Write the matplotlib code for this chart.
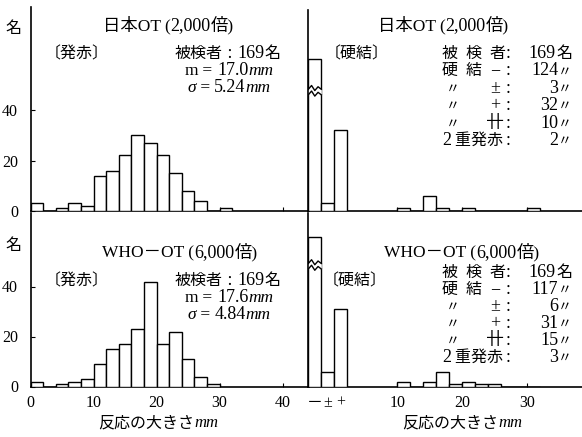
import matplotlib
matplotlib.use("Agg")
from matplotlib import pyplot as plt

plt.rcParams['font.family'] = ['Liberation Serif', 'Noto Sans CJK JP']

# 発赤 (redness) histograms, 2 mm bins starting at 0
red_edges_jp = [0, 2, 4, 6, 8, 10, 12, 14, 16, 18, 20, 22, 24, 26, 28, 30]
red_counts_jp = [3, 0, 1, 3, 2, 14, 16, 22, 30, 27, 22, 15, 8, 4, 0, 1]
red_edges_who = [0, 2, 4, 6, 8, 10, 12, 14, 16, 18, 20, 22, 24, 26, 28]
red_counts_who = [2, 0, 1, 2, 3, 9, 15, 17, 23, 42, 17, 22, 11, 4, 1]

# 硬結 (induration): categories -, ±, + then ++ sizes in 2 mm bins from 10
ind_cats = ['－', '±', '+']
ind_counts_jp = [124, 3, 32]
ind_counts_who = [117, 6, 31]
ind_edges = [10, 12, 14, 16, 18, 20, 22, 24, 26, 28, 30]
ind_mm_jp = [1, 0, 6, 1, 0, 1, 0, 0, 0, 0, 1]
ind_mm_who = [2, 0, 2, 6, 1, 2, 1, 1, 0, 0, 0]

CAP = 60  # the "-" bar is drawn broken at this height
cat_left = [-3.7, -1.7, 0.3]

W, H = 582, 437
fig = plt.figure(figsize=(W / 100, H / 100), dpi=100)
renderer = fig.canvas.get_renderer()

CJ = 11.5   # kanji size
NUM = 13    # digit size


def box(x0, y0, x1, y1):
    return [x0 / W, 1 - y1 / H, (x1 - x0) / W, (y1 - y0) / H]


def run(x, y, pieces, ha='left'):
    # pieces of (text, size[, style]) set side by side on one baseline (y in px from top)
    made = []
    for p in pieces:
        s, size = p[0], p[1]
        st = p[2] if len(p) > 2 else 'normal'
        t = fig.text(0, 0, s, fontsize=size, style=st, va='baseline', ha='left')
        made.append((t, t.get_window_extent(renderer).width))
    total = sum(w for _, w in made)
    if ha == 'center':
        x -= total / 2
    elif ha == 'right':
        x -= total
    for t, w in made:
        t.set_position((x / W, 1 - y / H))
        x += w


def style(ax):
    for s in ['top', 'right']:
        ax.spines[s].set_visible(False)
    for s in ['left', 'bottom']:
        ax.spines[s].set_linewidth(1.2)
    ax.tick_params(direction='in', length=3, width=0.8, labelsize=11.5)


def hist(ax, edges, counts):
    ax.bar(edges, counts, width=2, align='edge', color='white',
           edgecolor='black', linewidth=1.0, zorder=3)


ax_tl = fig.add_axes(box(30.7, 7, 309, 211))
ax_bl = fig.add_axes(box(30.7, 213, 309, 386.5))
ax_tr = fig.add_axes(box(308.3, 10, 582, 211))
ax_br = fig.add_axes(box(308.3, 213, 582, 386.5))

for ax in [ax_tl, ax_bl, ax_tr, ax_br]:
    style(ax)

ax_tl.set_ylim(0, 80.8)
ax_bl.set_ylim(0, 69.4)
ax_tr.set_ylim(0, 79.6)
ax_br.set_ylim(0, 69.4)

for ax in [ax_tl, ax_bl]:
    ax.set_xlim(0, 44.2)
    ax.set_yticks([0, 20, 40])
    ax.tick_params(axis='y', pad=9)
    ax.tick_params(axis='x', pad=6)
ax_tl.set_xticks([10, 20, 30, 40])
ax_bl.set_xticks([0, 10, 20, 30, 40])

hist(ax_tl, red_edges_jp, red_counts_jp)
hist(ax_bl, red_edges_who, red_counts_who)

for ax, cats, mm in [(ax_tr, ind_counts_jp, ind_mm_jp), (ax_br, ind_counts_who, ind_mm_who)]:
    ax.set_xlim(-3.7, 38.4)
    ax.set_yticks([20, 40])
    ax.set_yticklabels([])
    shown = [min(c, CAP) for c in cats]
    ax.bar(cat_left, shown, width=2, align='edge', color='white',
           edgecolor='black', linewidth=1.0, zorder=3)
    hist(ax, ind_edges, mm)
    ax.set_xticks([cl + 1 for cl in cat_left] + [10, 20, 30])
    ax.set_xticklabels(ind_cats + ['10', '20', '30'])
    ax.tick_params(axis='x', pad=6)
    for t in ax.xaxis.get_major_ticks()[:3]:
        t.tick1line.set_visible(False)

# break marks on the truncated "-" bars
for ax, yb in [(ax_tr, 46), (ax_br, 47)]:
    xs = [-3.7, -3.2, -2.7, -2.2, -1.7]
    lo = [yb, yb + 1.5, yb - 0.5, yb + 1.0, yb]
    hi = [v + 2.2 for v in lo]
    ax.fill_between(xs, lo, hi, color='white', zorder=4, linewidth=0)
    ax.plot(xs, lo, color='black', lw=1.0, zorder=5)
    ax.plot(xs, hi, color='black', lw=1.0, zorder=5)

# y-axis unit labels
run(13, 33, [('名', CJ)], ha='center')
run(13, 250, [('名', CJ)], ha='center')

# titles
for x, y, head in [(168, 30, '日本OT ('), (443, 30, '日本OT ('),
                   (180, 257, 'WHO－OT ('), (462, 257, 'WHO－OT (')]:
    num = '2,000' if y < 100 else '6,000'
    run(x, y, [(head, 12.5), (num, NUM), ('倍)', 12.5)], ha='center')

# left panel annotations
for y0, m, sd in [(58, '17.0', '5.24'), (285, '17.6', '4.84')]:
    run(45, y0, [('〔発赤〕', CJ)])
    run(175, y0, [('被検者', CJ), (' : ', NUM), ('169', NUM), ('名', CJ)])
    run(185, y0 + 17, [('m', 12.5), (' = ', 12.5), (m, NUM), ('mm', 12.5, 'italic')])
    run(187, y0 + 34, [('σ', 12.5, 'italic'), (' = ', 12.5), (sd, NUM), ('mm', 12.5, 'italic')])

# right panel tables
run(325, 58, [('〔硬結〕', CJ)])
run(323, 285, [('〔硬結〕', CJ)])


def table(y0, dy, rows):
    for i, (a, b, v, unit) in enumerate(rows):
        y = y0 + i * dy
        if a == '〃':
            run(453, y, [('〃', 10, 'italic')], ha='center')
        elif a.startswith('2'):
            run(442, y, [('2', NUM), (' ' + a[1:].strip(), CJ)])
        elif a:
            run(442, y, [(a, CJ)])
        if b:
            run(495, y, [(b, 13)], ha='center')
        run(508, y, [(':', NUM)], ha='center')
        run(572, y, [(v, NUM), (unit, 10 if unit == '〃' else CJ)], ha='right')


rows_jp = [('被  検  者', '', '169', '名'), ('硬  結', '−', '124', '〃'), ('〃', '±', '3', '〃'),
           ('〃', '+', '32', '〃'), ('〃', '卄', '10', '〃'), ('2 重発赤', '', '2', '〃')]
rows_who = [('被  検  者', '', '169', '名'), ('硬  結', '−', '117', '〃'), ('〃', '±', '6', '〃'),
            ('〃', '+', '31', '〃'), ('〃', '卄', '15', '〃'), ('2 重発赤', '', '3', '〃')]
table(58, 17.4, rows_jp)
table(277, 17, rows_who)

# x-axis titles
run(158, 427, [('反応の大きさ', CJ), ('mm', 12, 'italic')], ha='center')
run(462, 427, [('反応の大きさ', CJ), ('mm', 12, 'italic')], ha='center')

fig.savefig('out.png', dpi=100)
